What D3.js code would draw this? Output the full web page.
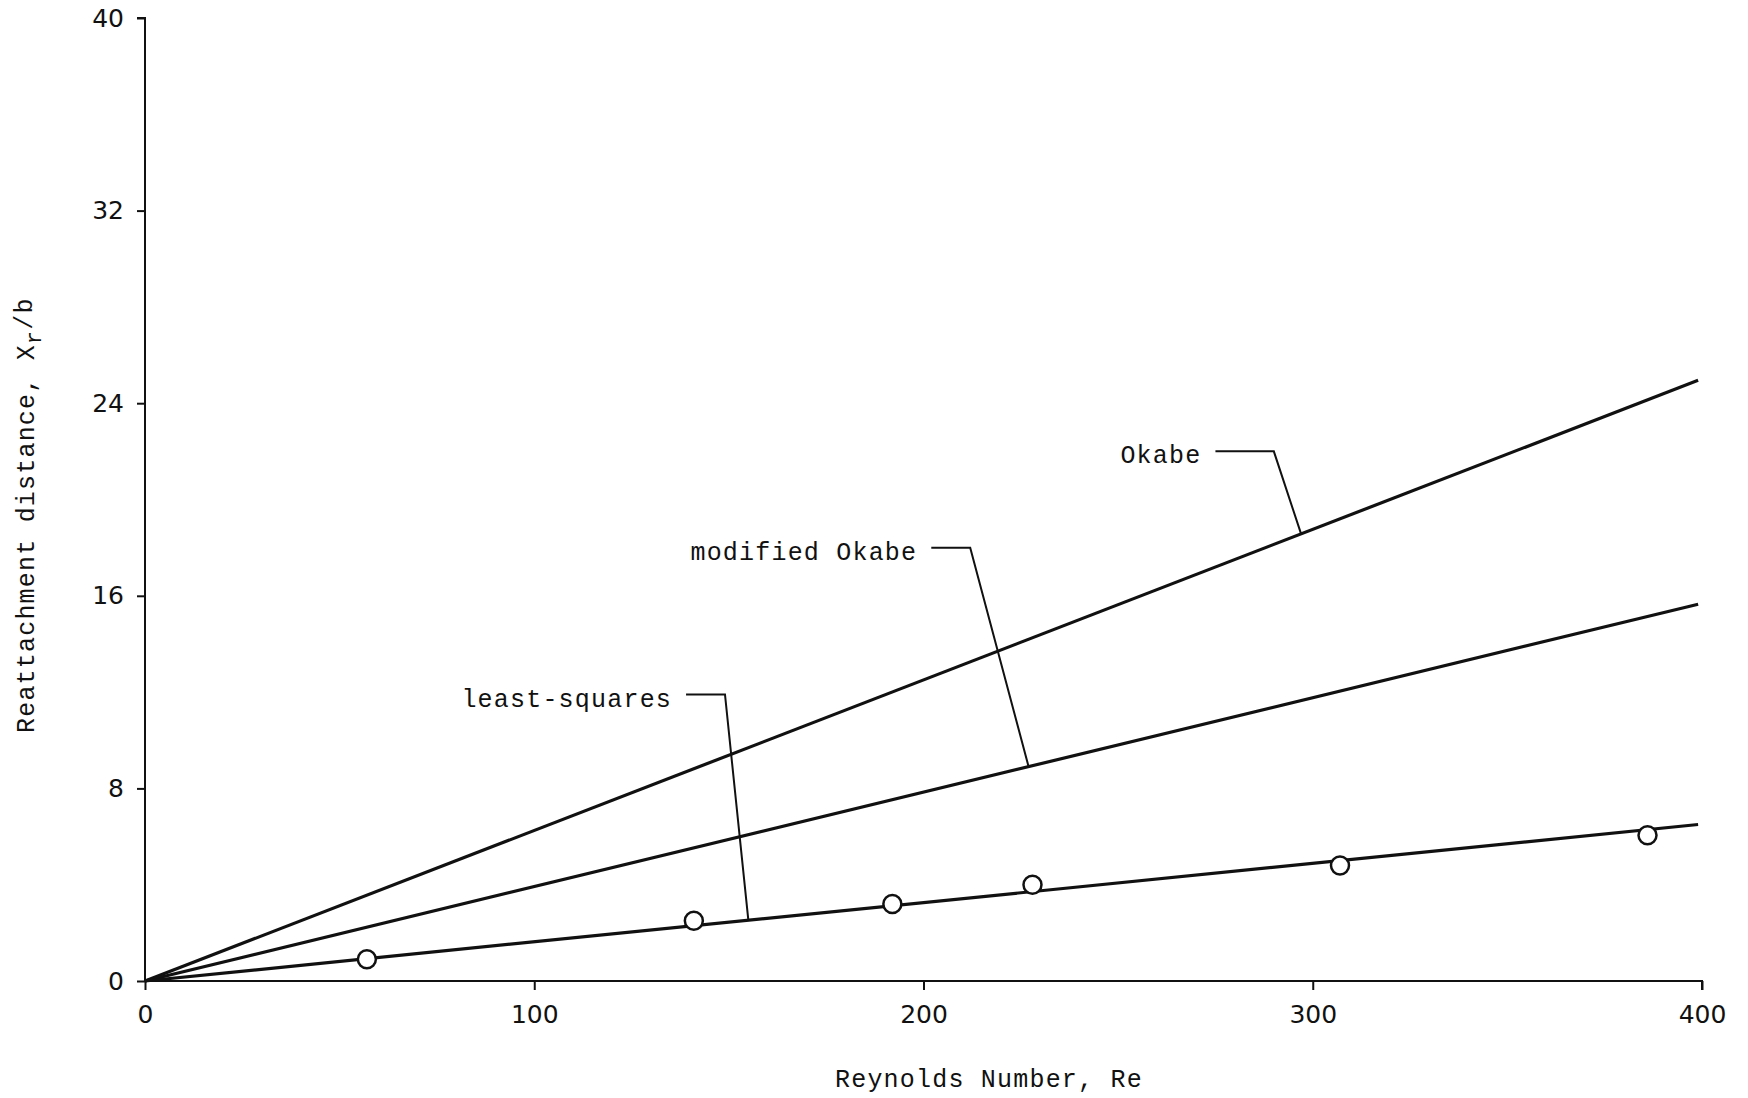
<!DOCTYPE html>
<html>
<head>
    <meta charset="utf-8">
    <script src="https://d3js.org/d3.v7.min.js"></script>
    <style>
        body { margin: 0; background: #fff; }
        .tick text { font-family: "DejaVu Sans", sans-serif; font-size: 25px; fill: #111; }
        .mono { font-family: "Liberation Mono", monospace; font-size: 25px; letter-spacing: 1.2px; fill: #111; }
    </style>
</head>
<body>
    <svg width="1748" height="1098"></svg>

    <script>
        // measured points (Re, Xr/b)
        var reData = [57, 141, 192, 228, 307, 386];
        var xrData = [0.9, 2.5, 3.2, 4.0, 4.8, 6.05];

        // straight lines from origin to right end
        var lineRe = [0, 399];
        var okabe = [0, 24.95];
        var modifiedOkabe = [0, 15.65];
        var leastSquares = [0, 6.5];

        var xTicks = [0, 100, 200, 300, 400];
        var yTicks = [0, 8, 16, 24, 32, 40];

        // leader labels: text, horizontal start Re, elbow Re, elbow value, target Re on line
        var labelText = ["Okabe", "modified Okabe", "least-squares"];
        var labelStartRe = [275, 202, 139];
        var labelElbowRe = [290, 212, 149];
        var labelElbowY = [22.0, 18.0, 11.9];
        var labelTargetRe = [297, 227, 155];
        var labelLine = [okabe, modifiedOkabe, leastSquares];

        var svg = d3.select("svg"),
            margin = { top: 18, right: 46, bottom: 117, left: 145 },
            width = +svg.attr("width") - margin.left - margin.right,
            height = +svg.attr("height") - margin.top - margin.bottom;

        var g = svg.append("g").attr("transform", "translate(" + margin.left + "," + margin.top + ")");

        var x = d3.scaleLinear().domain([0, 400]).range([0, width]);
        var y = d3.scaleLinear().domain([0, 40]).range([height, 0]);

        // axes
        var xAxis = g.append("g")
            .attr("transform", "translate(0," + height + ")")
            .call(d3.axisBottom(x).tickValues(xTicks).tickSize(9).tickPadding(15).tickFormat(d3.format("d")));
        var yAxis = g.append("g")
            .call(d3.axisLeft(y).tickValues(yTicks).tickSize(8).tickPadding(13).tickFormat(d3.format("d")));

        [xAxis, yAxis].forEach(function(a) {
            a.select(".domain").attr("stroke", "#111").attr("stroke-width", 2);
            a.selectAll(".tick line").attr("stroke", "#111").attr("stroke-width", 2);
        });
        xAxis.select(".domain").attr("d", "M0,0H" + width + "V9");
        yAxis.select(".domain").attr("d", "M-8,0H0V" + height);

        // lines
        var lineGen = d3.line()
            .x(function(d) { return x(d[0]); })
            .y(function(d) { return y(d[1]); });

        [okabe, modifiedOkabe, leastSquares].forEach(function(vals) {
            g.append("path")
                .datum(lineRe.map(function(r, i) { return [r, vals[i]]; }))
                .attr("fill", "none")
                .attr("stroke", "#111")
                .attr("stroke-width", 3.2)
                .attr("d", lineGen);
        });

        // leaders and labels
        labelText.forEach(function(t, i) {
            var vals = labelLine[i];
            var slope = (vals[1] - vals[0]) / (lineRe[1] - lineRe[0]);
            var ty = slope * labelTargetRe[i];
            g.append("path")
                .attr("fill", "none")
                .attr("stroke", "#111")
                .attr("stroke-width", 2)
                .attr("d", lineGen([
                    [labelStartRe[i], labelElbowY[i]],
                    [labelElbowRe[i], labelElbowY[i]],
                    [labelTargetRe[i], ty]
                ]));
            g.append("text")
                .attr("class", "mono")
                .attr("x", x(labelStartRe[i]) - 14)
                .attr("y", y(labelElbowY[i]) + 12)
                .attr("text-anchor", "end")
                .text(t);
        });

        // data points
        g.selectAll(".pt")
            .data(reData)
            .enter().append("circle")
            .attr("class", "pt")
            .attr("cx", function(d) { return x(d); })
            .attr("cy", function(d, i) { return y(xrData[i]); })
            .attr("r", 9)
            .attr("fill", "#fff")
            .attr("stroke", "#111")
            .attr("stroke-width", 2.5);

        // axis titles
        svg.append("text")
            .attr("class", "mono")
            .attr("x", 835)
            .attr("y", 1087)
            .text("Reynolds Number, Re");

        var yt = svg.append("text")
            .attr("class", "mono")
            .attr("transform", "translate(34,733) rotate(-90)")
            .attr("text-anchor", "start");
        yt.append("tspan").text("Reattachment distance, X");
        yt.append("tspan").attr("dy", 7).attr("font-size", 22).text("r");
        yt.append("tspan").attr("dy", -9).text("/b");
    </script>
</body>
</html>
